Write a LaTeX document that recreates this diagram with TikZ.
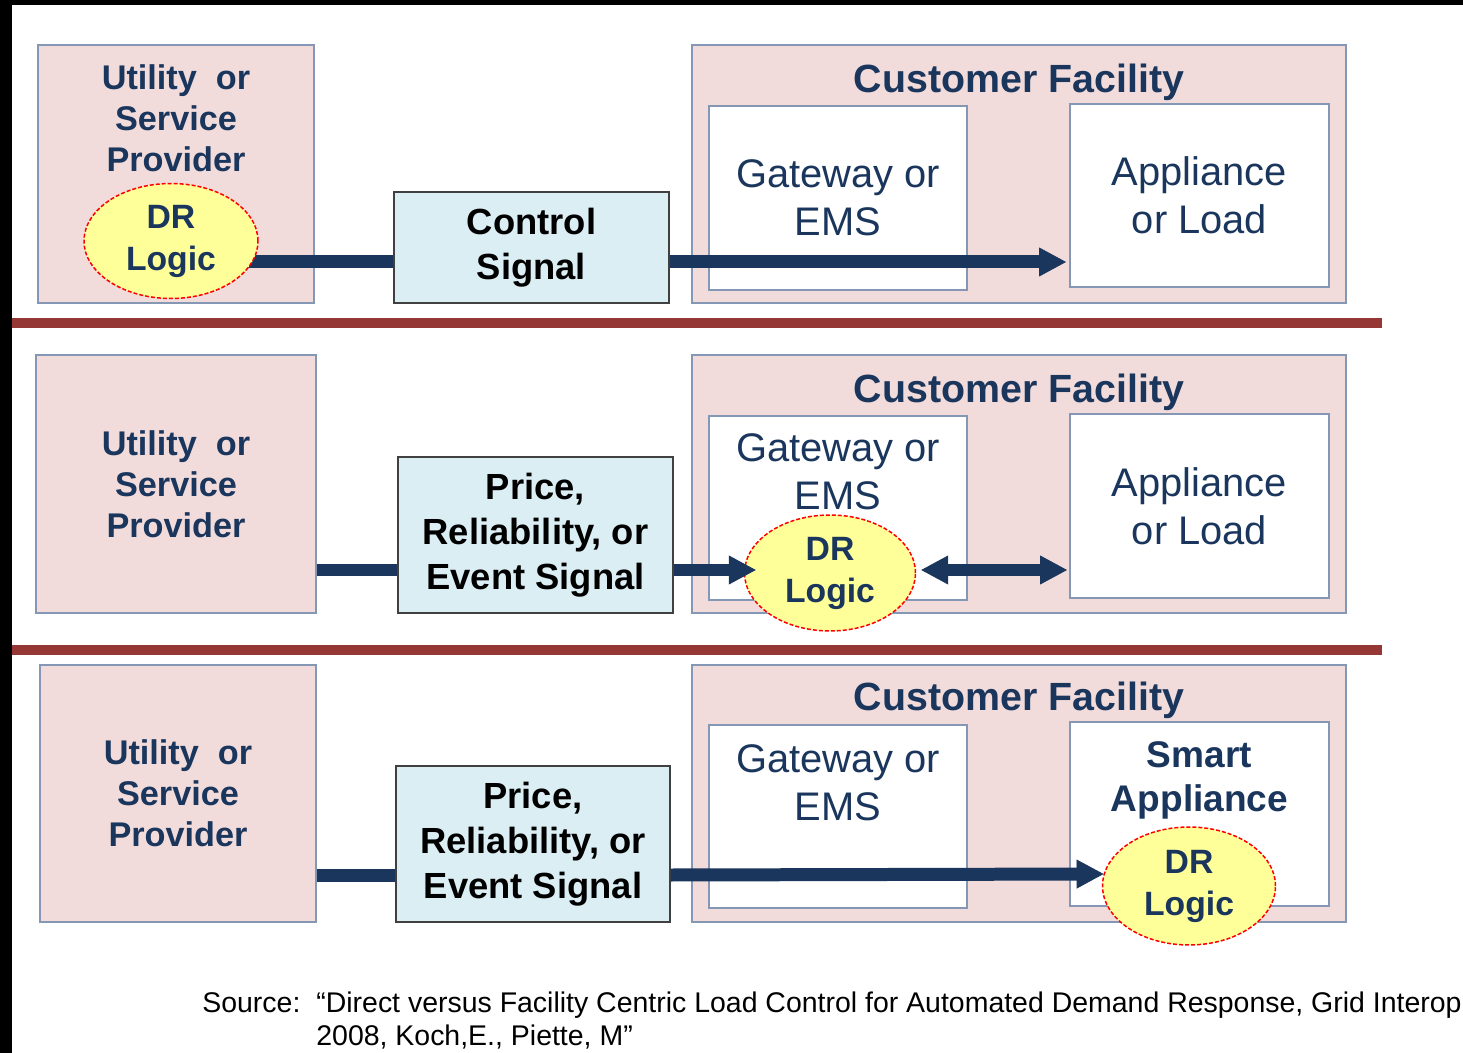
\documentclass[tikz,border=0pt]{standalone}
\usepackage{fontspec}
\setmainfont{Liberation Sans}
\usetikzlibrary{calc}
\usetikzlibrary{arrows.meta,shapes.geometric}

\definecolor{pinkbg}{HTML}{F2DCDB}
\definecolor{boxline}{HTML}{8497B5}
\definecolor{sigfill}{HTML}{DBEEF3}
\definecolor{sigedge}{HTML}{404040}
\definecolor{navy}{HTML}{1B365D}
\definecolor{sepred}{HTML}{953735}
\definecolor{drfill}{HTML}{FFFF99}

\tikzset{
    partybox/.style={rectangle, draw=boxline, fill=pinkbg, line width=0.04cm, inner sep=0pt},
    unitbox/.style={rectangle, draw=boxline, fill=white, line width=0.04cm, inner sep=0pt,
        minimum width=5.16cm, minimum height=3.68cm},
    signalbox/.style={rectangle, draw=sigedge, fill=sigfill, line width=0.04cm, inner sep=0pt,
        minimum width=5.5cm},
    drlogic/.style={ellipse, draw=red, fill=drfill, line width=0.03cm, dash pattern=on 0.08cm off 0.04cm,
        inner sep=0pt, minimum width=3.44cm, minimum height=2.32cm, text=navy, align=center,
        font=\bfseries\fontsize{19.2}{23.9}\selectfont},
    provtext/.style={text=navy, align=center, font=\bfseries\fontsize{19.5}{23.3}\selectfont},
    facilitytitle/.style={text=navy, font=\bfseries\fontsize{22.4}{27}\selectfont},
    unittext/.style={text=navy, align=center, font=\fontsize{22.7}{27.3}\selectfont},
    smarttext/.style={text=navy, align=center, font=\bfseries\fontsize{21.1}{25}\selectfont},
    signaltext/.style={text=black, align=center, font=\bfseries\fontsize{20.7}{25.6}\selectfont},
    sigwire/.style={draw=navy, line width=0.26cm},
    sigarrow/.style={sigwire, -{Triangle[length=0.54cm, width=0.58cm, line width=0.5pt]}},
    sigboth/.style={sigwire, {Triangle[length=0.54cm, width=0.58cm, line width=0.5pt]}-{Triangle[length=0.54cm, width=0.58cm, line width=0.5pt]}},
    rowrule/.style={draw=sepred, line width=0.2cm},
    sourcetext/.style={text=black, inner sep=0pt, font=\fontsize{16.2}{19.3}\selectfont}
}

\begin{document}
\begin{tikzpicture}[x=0.02cm, y=-0.02cm]
			\useasboundingbox (0,0) rectangle (1463,1053);
			\fill[white] (0,0) rectangle (1463,1053);
			\fill[black] (0,0) rectangle (1463,5);
			\fill[black] (0,0) rectangle (12,1053);

			% direct load control
			\coordinate (lvl1) at (0,262);
			\coordinate (dr1pos) at (171,241);
			\node[partybox, minimum width=5.52cm, minimum height=5.16cm] (prov1) at (176,174) {};
			\node[provtext] (prov1txt) at (176,118) {Utility\ \ or\\Service\\Provider};
			\node[signalbox, signaltext, minimum height=2.22cm] (ctrl1) at (531.5,247.5) {Control\\Signal};
			\node[partybox, minimum width=13.08cm, minimum height=5.16cm] (fac1) at (1019,174) {};
			\node[facilitytitle] (fac1title) at (1019,82) {Customer Facility};
			\node[unitbox, unittext] (gw1) at (838,198) {Gateway or\\EMS};
			\node[unitbox, unittext, minimum width=5.18cm, minimum height=3.66cm] (app1) at (1199.5,195.5) {Appliance\\or Load};

			\draw[sigwire] (dr1pos |- lvl1) -- (ctrl1.west |- lvl1);
			\node[drlogic, minimum width=3.48cm, minimum height=2.3cm] (dr1) at (dr1pos) {DR\\Logic};
			\draw[sigarrow] (ctrl1.east |- lvl1) -- ($(app1.west |- lvl1)+(-3,0)$);

			\draw[rowrule] (12,323) -- (1382,323);

			% facility centric, DR logic in the gateway
			\coordinate (lvl2) at (0,570);
			\node[partybox, provtext, minimum width=5.6cm, minimum height=5.16cm] (prov2) at (176,484) {Utility\ \ or\\Service\\Provider};
			\node[signalbox, signaltext, minimum height=3.12cm] (price2) at (535.5,535) {Price,\\Reliability, or\\Event Signal};
			\node[partybox, minimum width=13.08cm, minimum height=5.16cm] (fac2) at (1019,484) {};
			\node[facilitytitle] (fac2title) at (1019,392) {Customer Facility};
			\node[unitbox] (gw2) at (838,508) {};
			\node[unittext] (gw2txt) at (838,472) {Gateway or\\EMS};
			\node[unitbox, unittext, minimum width=5.18cm, minimum height=3.68cm] (app2) at (1199.5,506) {Appliance\\or Load};
			\node[drlogic, minimum width=3.42cm] (dr2) at (830,573) {DR\\Logic};

			\draw[sigwire] (prov2.east |- lvl2) -- (price2.west |- lvl2);
			\draw[sigarrow] (price2.east |- lvl2) -- ($(dr2.west |- lvl2)+(12,0)$);
			\draw[sigboth] ($(dr2.east |- lvl2)+(5,0)$) -- ($(app2.west |- lvl2)+(-2,0)$);

			\draw[rowrule] (12,650) -- (1382,650);

			% facility centric, DR logic in the smart appliance
			\coordinate (lvl3) at (0,875);
			\node[partybox, provtext, minimum width=5.52cm, minimum height=5.14cm] (prov3) at (178,793.5) {Utility\ \ or\\Service\\Provider};
			\node[signalbox, signaltext, minimum width=5.48cm, minimum height=3.12cm] (price3) at (533,844) {Price,\\Reliability, or\\Event Signal};
			\node[partybox, minimum width=13.08cm, minimum height=5.14cm] (fac3) at (1019,793.5) {};
			\node[facilitytitle] (fac3title) at (1019,700) {Customer Facility};
			\node[unitbox, minimum height=3.66cm] (gw3) at (838,816.5) {};
			\node[unittext] (gw3txt) at (838,783) {Gateway or\\EMS};
			\node[unitbox, minimum width=5.18cm] (sapp3) at (1199.5,814) {};
			\node[smarttext] (sapp3txt) at (1199.5,780) {Smart\\Appliance};
			\node[drlogic, minimum width=3.46cm, minimum height=2.36cm] (dr3) at (1189,886) {DR\\Logic};

			\draw[sigwire] (prov3.east |- lvl3) -- (price3.west |- lvl3);
			\draw[sigarrow] (price3.east |- lvl3) -- (dr3.172.6);

			\node[sourcetext, anchor=base west] (srclabel) at (202,1012) {Source:};
			\node[sourcetext, anchor=base west] (srcref1) at (316,1012) {“Direct versus Facility Centric Load Control for Automated Demand Response, Grid Interop};
			\node[sourcetext, anchor=base west] (srcref2) at (316,1045) {2008, Koch,E., Piette, M”};
\end{tikzpicture}
\end{document}
